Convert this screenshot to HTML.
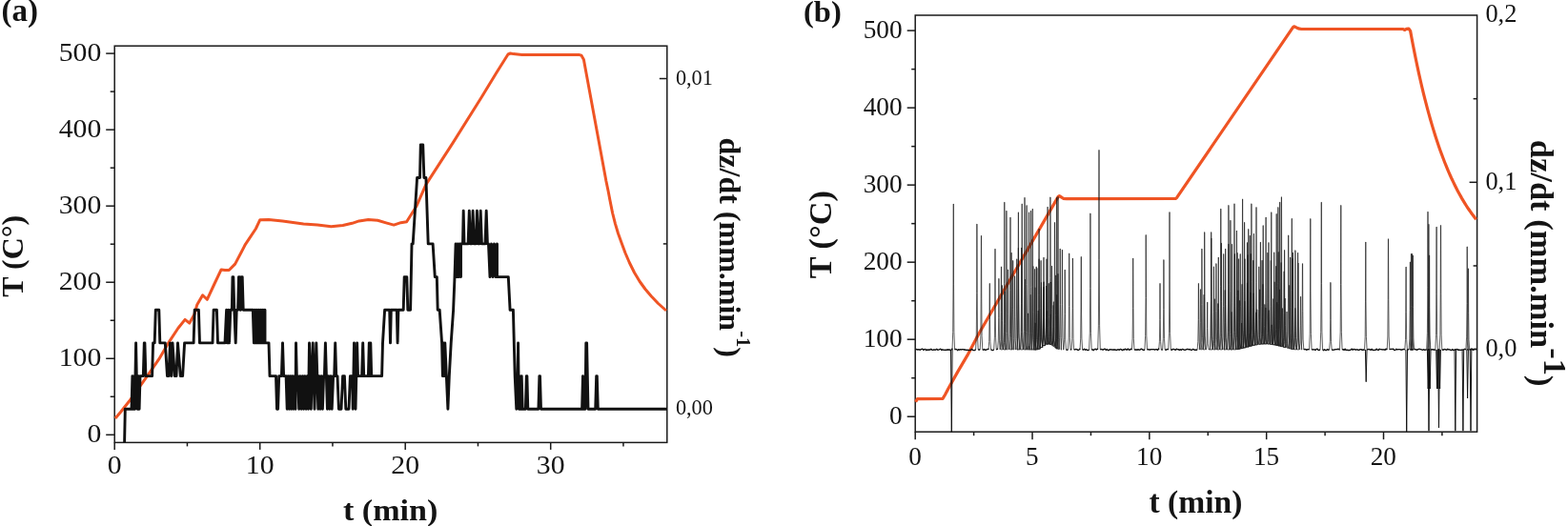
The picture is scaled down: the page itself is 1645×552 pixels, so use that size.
<!DOCTYPE html>
<html><head><meta charset="utf-8"><style>
html,body{margin:0;padding:0;background:#fff;overflow:hidden;}
svg{display:block;}
text{font-family:"Liberation Serif","Times New Roman",serif;fill:#141414;}
</style></head><body>
<svg width="1645" height="552" viewBox="0 0 1645 552">
<rect width="1645" height="552" fill="#fff"/>
<rect x="120.2" y="48.2" width="579.60" height="416.20" fill="none" stroke="#1a1a1a" stroke-width="1.5"/>
<line x1="111.20" y1="456.30" x2="120.20" y2="456.30" stroke="#1a1a1a" stroke-width="1.5"/>
<text transform="translate(106.30 464.00) scale(1.05 1)" font-size="28.3" text-anchor="end">0</text>
<line x1="111.20" y1="376.26" x2="120.20" y2="376.26" stroke="#1a1a1a" stroke-width="1.5"/>
<text transform="translate(106.30 383.96) scale(1.05 1)" font-size="28.3" text-anchor="end">100</text>
<line x1="111.20" y1="296.22" x2="120.20" y2="296.22" stroke="#1a1a1a" stroke-width="1.5"/>
<text transform="translate(106.30 303.92) scale(1.05 1)" font-size="28.3" text-anchor="end">200</text>
<line x1="111.20" y1="216.18" x2="120.20" y2="216.18" stroke="#1a1a1a" stroke-width="1.5"/>
<text transform="translate(106.30 223.88) scale(1.05 1)" font-size="28.3" text-anchor="end">300</text>
<line x1="111.20" y1="136.14" x2="120.20" y2="136.14" stroke="#1a1a1a" stroke-width="1.5"/>
<text transform="translate(106.30 143.84) scale(1.05 1)" font-size="28.3" text-anchor="end">400</text>
<line x1="111.20" y1="56.10" x2="120.20" y2="56.10" stroke="#1a1a1a" stroke-width="1.5"/>
<text transform="translate(106.30 63.80) scale(1.05 1)" font-size="28.3" text-anchor="end">500</text>
<line x1="115.70" y1="416.28" x2="120.20" y2="416.28" stroke="#1a1a1a" stroke-width="1.5"/>
<line x1="115.70" y1="336.24" x2="120.20" y2="336.24" stroke="#1a1a1a" stroke-width="1.5"/>
<line x1="115.70" y1="256.20" x2="120.20" y2="256.20" stroke="#1a1a1a" stroke-width="1.5"/>
<line x1="115.70" y1="176.16" x2="120.20" y2="176.16" stroke="#1a1a1a" stroke-width="1.5"/>
<line x1="115.70" y1="96.12" x2="120.20" y2="96.12" stroke="#1a1a1a" stroke-width="1.5"/>
<line x1="120.20" y1="464.40" x2="120.20" y2="471.90" stroke="#1a1a1a" stroke-width="1.5"/>
<text transform="translate(120.20 497.20) scale(1.05 1)" font-size="28.3" text-anchor="middle">0</text>
<line x1="272.70" y1="464.40" x2="272.70" y2="471.90" stroke="#1a1a1a" stroke-width="1.5"/>
<text transform="translate(272.70 497.20) scale(1.05 1)" font-size="28.3" text-anchor="middle">10</text>
<line x1="425.20" y1="464.40" x2="425.20" y2="471.90" stroke="#1a1a1a" stroke-width="1.5"/>
<text transform="translate(425.20 497.20) scale(1.05 1)" font-size="28.3" text-anchor="middle">20</text>
<line x1="577.70" y1="464.40" x2="577.70" y2="471.90" stroke="#1a1a1a" stroke-width="1.5"/>
<text transform="translate(577.70 497.20) scale(1.05 1)" font-size="28.3" text-anchor="middle">30</text>
<line x1="196.45" y1="464.40" x2="196.45" y2="468.40" stroke="#1a1a1a" stroke-width="1.5"/>
<line x1="348.95" y1="464.40" x2="348.95" y2="468.40" stroke="#1a1a1a" stroke-width="1.5"/>
<line x1="501.45" y1="464.40" x2="501.45" y2="468.40" stroke="#1a1a1a" stroke-width="1.5"/>
<line x1="653.95" y1="464.40" x2="653.95" y2="468.40" stroke="#1a1a1a" stroke-width="1.5"/>
<line x1="691.80" y1="429.30" x2="699.80" y2="429.30" stroke="#1a1a1a" stroke-width="1.5"/>
<text transform="translate(708.90 435.30) scale(0.97 1)" font-size="23" text-anchor="start">0,00</text>
<line x1="691.80" y1="82.50" x2="699.80" y2="82.50" stroke="#1a1a1a" stroke-width="1.5"/>
<text transform="translate(708.90 88.50) scale(0.97 1)" font-size="23" text-anchor="start">0,01</text>
<line x1="695.80" y1="255.90" x2="699.80" y2="255.90" stroke="#1a1a1a" stroke-width="1.5"/>
<text transform="translate(1.40 22.20)" font-size="33" text-anchor="start" font-weight="bold">(a)</text>
<text transform="translate(24.30 268.80) rotate(-90)" font-size="32" text-anchor="middle" font-weight="bold">T (C°)</text>
<text transform="translate(409.60 546.30) scale(1.065 1)" font-size="32" text-anchor="middle" font-weight="bold">t (min)</text>
<text transform="translate(754.50 144.50) rotate(90)" font-size="32" text-anchor="start" font-weight="bold">dz/dt (mm.min<tspan font-size="20.5" dy="-18.6">-1</tspan><tspan dy="18.6">)</tspan></text>
<rect x="960.2" y="16.0" width="589.40" height="437.20" fill="none" stroke="#1a1a1a" stroke-width="1.5"/>
<line x1="951.70" y1="437.20" x2="960.20" y2="437.20" stroke="#1a1a1a" stroke-width="1.5"/>
<text transform="translate(946.60 444.90) scale(0.965 1)" font-size="28.3" text-anchor="end">0</text>
<line x1="951.70" y1="356.18" x2="960.20" y2="356.18" stroke="#1a1a1a" stroke-width="1.5"/>
<text transform="translate(946.60 363.88) scale(0.965 1)" font-size="28.3" text-anchor="end">100</text>
<line x1="951.70" y1="275.16" x2="960.20" y2="275.16" stroke="#1a1a1a" stroke-width="1.5"/>
<text transform="translate(946.60 282.86) scale(0.965 1)" font-size="28.3" text-anchor="end">200</text>
<line x1="951.70" y1="194.14" x2="960.20" y2="194.14" stroke="#1a1a1a" stroke-width="1.5"/>
<text transform="translate(946.60 201.84) scale(0.965 1)" font-size="28.3" text-anchor="end">300</text>
<line x1="951.70" y1="113.12" x2="960.20" y2="113.12" stroke="#1a1a1a" stroke-width="1.5"/>
<text transform="translate(946.60 120.82) scale(0.965 1)" font-size="28.3" text-anchor="end">400</text>
<line x1="951.70" y1="32.10" x2="960.20" y2="32.10" stroke="#1a1a1a" stroke-width="1.5"/>
<text transform="translate(946.60 39.80) scale(0.965 1)" font-size="28.3" text-anchor="end">500</text>
<line x1="956.20" y1="396.69" x2="960.20" y2="396.69" stroke="#1a1a1a" stroke-width="1.5"/>
<line x1="956.20" y1="315.67" x2="960.20" y2="315.67" stroke="#1a1a1a" stroke-width="1.5"/>
<line x1="956.20" y1="234.65" x2="960.20" y2="234.65" stroke="#1a1a1a" stroke-width="1.5"/>
<line x1="956.20" y1="153.63" x2="960.20" y2="153.63" stroke="#1a1a1a" stroke-width="1.5"/>
<line x1="956.20" y1="72.61" x2="960.20" y2="72.61" stroke="#1a1a1a" stroke-width="1.5"/>
<line x1="960.20" y1="453.20" x2="960.20" y2="461.20" stroke="#1a1a1a" stroke-width="1.5"/>
<text transform="translate(960.00 487.50) scale(0.96 1)" font-size="28.3" text-anchor="middle">0</text>
<line x1="1083.03" y1="453.20" x2="1083.03" y2="461.20" stroke="#1a1a1a" stroke-width="1.5"/>
<text transform="translate(1082.83 487.50) scale(0.96 1)" font-size="28.3" text-anchor="middle">5</text>
<line x1="1205.85" y1="453.20" x2="1205.85" y2="461.20" stroke="#1a1a1a" stroke-width="1.5"/>
<text transform="translate(1205.65 487.50) scale(0.96 1)" font-size="28.3" text-anchor="middle">10</text>
<line x1="1328.68" y1="453.20" x2="1328.68" y2="461.20" stroke="#1a1a1a" stroke-width="1.5"/>
<text transform="translate(1328.48 487.50) scale(0.96 1)" font-size="28.3" text-anchor="middle">15</text>
<line x1="1451.50" y1="453.20" x2="1451.50" y2="461.20" stroke="#1a1a1a" stroke-width="1.5"/>
<text transform="translate(1451.30 487.50) scale(0.96 1)" font-size="28.3" text-anchor="middle">20</text>
<line x1="1021.61" y1="453.20" x2="1021.61" y2="457.20" stroke="#1a1a1a" stroke-width="1.5"/>
<line x1="1144.44" y1="453.20" x2="1144.44" y2="457.20" stroke="#1a1a1a" stroke-width="1.5"/>
<line x1="1267.26" y1="453.20" x2="1267.26" y2="457.20" stroke="#1a1a1a" stroke-width="1.5"/>
<line x1="1390.09" y1="453.20" x2="1390.09" y2="457.20" stroke="#1a1a1a" stroke-width="1.5"/>
<line x1="1512.91" y1="453.20" x2="1512.91" y2="457.20" stroke="#1a1a1a" stroke-width="1.5"/>
<line x1="1541.60" y1="366.60" x2="1549.60" y2="366.60" stroke="#1a1a1a" stroke-width="1.5"/>
<text transform="translate(1558.40 373.80) scale(0.95 1)" font-size="27.8" text-anchor="start">0,0</text>
<line x1="1541.60" y1="191.30" x2="1549.60" y2="191.30" stroke="#1a1a1a" stroke-width="1.5"/>
<text transform="translate(1558.40 198.50) scale(0.95 1)" font-size="27.8" text-anchor="start">0,1</text>
<text transform="translate(1558.40 23.20) scale(0.95 1)" font-size="27.8" text-anchor="start">0,2</text>
<line x1="1545.60" y1="278.95" x2="1549.60" y2="278.95" stroke="#1a1a1a" stroke-width="1.5"/>
<line x1="1545.60" y1="103.65" x2="1549.60" y2="103.65" stroke="#1a1a1a" stroke-width="1.5"/>
<text transform="translate(843.00 23.20)" font-size="32.5" text-anchor="start" font-weight="bold">(b)</text>
<text transform="translate(872.20 246.20) rotate(-90)" font-size="34.3" text-anchor="middle" font-weight="bold">T (°C)</text>
<text transform="translate(1254.50 538.20)" font-size="33.6" text-anchor="middle" font-weight="bold">t (min)</text>
<text transform="translate(1605.50 146.80) rotate(90)" font-size="34.5" text-anchor="start" font-weight="bold">dz/dt (mm.min<tspan dy="-14.6">-1</tspan><tspan dy="14.6">)</tspan></text>
<polyline points="121.0,439.0 126.7,432.2 135.4,421.3 146.3,406.1 157.1,390.9 166.9,376.7 177.8,358.1 186.8,344.5 194.1,335.4 198.8,339.1 203.9,330.0 206.8,319.7 212.6,309.7 217.3,314.3 224.9,298.0 232.1,282.9 236.0,283.5 240.3,283.5 246.6,277.1 257.5,256.3 260.0,252.6 268.4,240.0 272.8,230.7 281.9,230.4 296.5,232.1 318.4,234.9 333.0,236.1 347.5,237.7 359.7,236.5 369.4,234.3 376.7,231.9 386.4,230.4 396.2,231.3 405.9,234.1 413.2,236.1 420.5,233.7 426.6,232.8 430.2,227.0 436.7,216.8 446.9,193.6 475.0,150.1 505.2,102.0 521.5,75.2 533.0,57.0 535.5,56.0 538.5,56.6 547.6,57.6 608.0,57.6 610.0,58.2 612.4,62.4 635.9,190.0 638.2,201.0 640.0,210.5 642.6,223.5 645.4,234.6 648.5,245.0 652.2,255.2 656.0,265.5 660.3,275.5 665.5,286.0 671.2,295.5 677.0,303.5 683.4,311.0 690.5,318.5 699.0,326.0" fill="none" stroke="#ef5424" stroke-width="3" stroke-linejoin="round"/>
<polyline points="130.6,464.4 131.3,429.3 138.0,429.3 138.9,394.6 139.8,429.3 140.7,394.6 141.6,429.3 142.0,394.6 142.6,359.9 143.3,394.6 144.2,429.3 145.2,394.6 146.1,429.3 147.0,394.6 147.5,394.6 150.3,394.6 151.3,359.9 151.9,359.9 152.9,394.6 159.6,394.6 160.6,359.9 162.2,359.9 163.3,325.3 166.8,325.3 167.8,359.9 173.3,359.9 175.5,394.6 177.0,394.6 178.5,359.9 179.8,394.6 181.0,359.9 183.3,394.6 185.0,394.6 186.5,359.9 189.3,394.6 191.6,394.6 193.6,359.9 203.1,359.9 204.2,325.3 208.4,325.3 209.5,359.9 223.0,359.9 224.1,325.3 227.4,325.3 228.5,359.9 236.0,359.9 237.6,325.3 238.4,359.9 239.6,325.3 240.5,359.9 241.8,325.3 243.3,325.3 244.0,290.6 244.8,290.6 245.8,325.3 247.2,359.9 248.2,325.3 249.6,325.3 250.5,290.6 251.2,290.6 252.0,325.3 252.6,325.3 253.4,290.6 254.2,290.6 255.2,325.3 265.3,325.3 266.4,359.9 267.4,325.3 268.5,359.9 269.5,325.3 270.6,359.9 271.6,325.3 272.7,359.9 273.8,325.3 274.8,359.9 275.9,325.3 276.9,359.9 278.0,325.3 278.0,359.9 282.0,359.9 283.0,394.6 289.5,394.6 290.5,429.3 291.6,429.3 292.7,394.6 295.4,394.6 296.5,359.9 297.6,394.6 299.0,394.6 300.1,394.6 301.2,429.3 302.3,394.6 303.4,429.3 304.5,394.6 305.6,429.3 306.7,394.6 307.8,429.3 308.9,394.6 310.0,429.3 310.5,359.9 311.3,394.6 312.5,394.6 313.7,429.3 315.0,394.6 316.2,429.3 317.4,394.6 318.6,429.3 319.8,394.6 321.1,429.3 322.3,394.6 323.5,429.3 324.5,359.9 325.5,394.6 326.3,429.3 327.2,394.6 328.2,359.9 329.2,394.6 330.0,429.3 330.9,394.6 331.8,359.9 332.8,394.6 333.8,429.3 334.8,394.6 336.0,429.3 337.2,394.6 338.4,429.3 339.6,394.6 340.4,394.6 341.4,359.9 342.4,394.6 343.4,429.3 344.6,394.6 345.8,429.3 347.0,394.6 348.2,429.3 349.6,394.6 350.7,394.6 351.7,359.9 352.7,394.6 354.0,394.6 355.4,429.3 358.0,429.3 359.6,394.6 361.4,394.6 362.8,429.3 366.0,429.3 367.4,394.6 369.6,394.6 370.2,429.3 370.9,394.6 371.5,359.9 372.3,394.6 373.0,429.3 373.8,394.6 374.6,359.9 375.5,394.6 379.6,394.6 380.7,359.9 381.7,394.6 386.4,394.6 387.3,359.9 388.1,394.6 388.8,359.9 389.7,394.6 400.6,394.6 401.5,359.9 403.6,325.3 408.7,325.3 409.5,359.9 410.3,325.3 416.3,325.3 417.1,359.9 417.9,325.3 423.2,325.3 424.2,290.6 426.8,290.6 427.8,325.3 430.6,325.3 432.0,255.9 433.2,255.9 437.6,186.5 440.5,186.5 441.3,151.9 443.7,151.9 444.9,186.5 446.9,186.5 449.2,255.9 454.1,255.9 456.3,290.6 458.3,290.6 459.2,325.3 461.2,325.3 463.6,359.9 464.4,394.6 465.2,359.9 466.0,394.6 466.8,359.9 469.9,429.3 471.3,394.6 473.2,359.9 475.6,325.3 477.0,290.6 478.1,255.9 479.2,290.6 480.2,255.9 481.3,290.6 482.4,255.9 483.5,290.6 483.5,255.9 485.5,255.9 486.2,221.2 487.0,255.9 490.5,255.9 491.1,255.9 492.3,221.2 493.5,255.9 494.9,255.9 496.1,221.2 497.3,255.9 499.2,255.9 500.4,221.2 501.6,255.9 503.0,255.9 504.2,221.2 505.4,255.9 505.5,255.9 509.0,255.9 510.2,221.2 511.4,255.9 512.5,255.9 514.0,290.6 515.5,255.9 517.0,290.6 518.5,255.9 520.0,290.6 521.5,255.9 521.5,290.6 533.3,290.6 535.1,325.3 538.4,325.3 540.2,394.6 541.8,429.3 543.0,394.6 543.6,359.9 544.4,429.3 545.2,394.6 546.2,429.3 547.2,394.6 548.2,429.3 551.4,429.3 552.3,394.6 552.9,394.6 553.8,429.3 564.9,429.3 565.9,394.6 566.5,394.6 567.5,429.3 610.6,429.3 611.5,394.6 612.5,429.3 614.0,429.3 614.8,359.9 615.6,359.9 617.0,429.3 624.7,429.3 625.7,394.6 626.3,394.6 627.3,429.3 699.8,429.3" fill="none" stroke="#111" stroke-width="2.9" stroke-linejoin="round"/>
<polyline points="960.6,421.8 962.5,418.6 989.0,418.4 991.5,414.2 994.9,407.8 1004.9,389.9 1014.9,372.9 1027.0,350.0 1110.2,206.4 1111.4,205.6 1113.0,206.6 1115.5,208.3 1119.0,208.7 1233.3,208.4 1234.6,207.4 1356.5,28.6 1357.6,27.9 1359.0,28.3 1361.5,29.6 1363.4,30.2 1365.3,30.5 1472.0,30.5 1473.5,31.5 1475.5,30.4 1478.0,30.2 1479.6,32.4 1481.1,40.5 1482.6,48.3 1484.1,55.9 1485.6,63.3 1487.1,70.4 1488.6,77.3 1490.1,84.0 1491.6,90.5 1493.1,96.8 1494.6,102.8 1496.1,108.7 1497.6,114.4 1499.1,119.9 1500.6,125.3 1502.1,130.4 1503.6,135.4 1505.1,140.3 1506.6,145.0 1508.1,149.5 1509.6,153.9 1511.1,158.2 1512.6,162.3 1514.1,166.3 1515.6,170.2 1517.1,173.9 1518.6,177.6 1520.1,181.1 1521.6,184.5 1523.1,187.8 1524.6,190.9 1526.1,194.0 1527.6,197.0 1529.1,199.9 1530.6,202.7 1532.1,205.4 1533.6,208.1 1535.1,210.6 1536.6,213.1 1538.1,215.5 1539.6,217.8 1541.1,220.0 1542.6,222.2 1544.1,224.3 1545.6,226.3 1547.1,228.3 1548.6,230.2" fill="none" stroke="#ef5424" stroke-width="3.2" stroke-linejoin="round"/>
<polyline points="960.8,366.9 961.8,366.5 962.8,367.0 963.8,366.7 964.8,367.0 965.8,367.1 966.8,366.3 967.8,366.2 968.8,367.4 969.8,366.6 970.8,366.5 971.8,367.6 972.8,366.9 973.8,367.4 974.8,366.9 975.8,367.1 976.8,366.4 977.8,367.1 978.8,367.4 979.8,366.9 980.8,367.2 981.8,367.1 982.8,366.3 983.8,367.3 984.8,367.0 985.8,366.6 986.8,366.2 987.8,367.4 988.8,366.9 989.8,367.2 990.8,367.4 991.8,367.2 992.8,367.5 993.8,366.8 994.8,367.3 995.8,366.8 996.8,367.5 997.8,367.4 998.8,366.3 999.0,366.9 999.7,348.6 1000.0,298.1 1000.2,214.0 1000.4,214.0 1000.5,298.1 1000.9,348.6 1001.6,366.9 1002.6,366.4 1003.6,366.5 1004.6,367.6 1005.6,366.8 1006.6,367.1 1007.6,366.6 1008.6,366.9 1009.6,366.7 1010.6,366.7 1011.6,367.0 1012.6,367.0 1013.6,367.5 1014.6,367.2 1015.6,367.5 1016.6,367.4 1017.6,367.6 1018.6,367.1 1019.6,366.4 1020.6,367.4 1021.6,367.6 1022.6,367.5 1023.6,366.9 1024.3,351.1 1024.7,307.6 1024.8,235.1 1025.0,235.1 1025.2,307.6 1025.5,351.1 1026.2,366.9 1027.2,367.0 1028.2,366.9 1028.9,352.5 1029.2,313.1 1029.4,247.3 1029.6,247.3 1029.8,313.1 1030.1,352.5 1030.8,366.9 1031.8,367.2 1032.8,366.5 1033.8,367.4 1034.8,367.0 1035.8,366.6 1036.8,366.3 1037.0,366.9 1037.7,358.6 1038.0,335.6 1038.2,297.4 1038.4,297.4 1038.5,335.6 1038.9,358.6 1039.6,366.9 1040.6,367.4 1041.6,367.6 1042.7,366.9 1043.4,354.2 1043.8,319.3 1043.9,261.2 1044.1,261.2 1044.2,319.3 1044.6,354.2 1045.3,366.9 1046.3,366.3 1046.6,366.9 1047.3,357.9 1047.7,333.3 1047.8,292.3 1048.0,292.3 1048.2,333.3 1048.5,357.9 1049.2,366.9 1049.2,366.9 1049.9,356.5 1050.2,327.7 1050.4,279.9 1050.6,279.9 1050.8,327.7 1051.1,356.5 1051.8,366.9 1050.0,366.9 1050.7,358.8 1051.0,336.6 1051.2,299.5 1051.4,299.5 1051.5,336.6 1051.9,358.8 1052.6,366.9 1052.5,366.9 1053.2,348.3 1053.5,297.3 1053.7,212.2 1053.9,212.2 1054.0,297.3 1054.4,348.3 1055.1,366.9 1052.8,366.9 1053.5,359.6 1053.8,339.4 1054.0,305.8 1054.1,305.8 1054.3,339.4 1054.7,359.6 1055.4,366.9 1054.6,366.9 1055.3,349.4 1055.7,301.3 1055.8,221.2 1056.0,221.2 1056.2,301.3 1056.5,349.4 1057.2,366.9 1056.2,366.9 1056.9,356.8 1057.3,329.1 1057.4,282.9 1057.6,282.9 1057.8,329.1 1058.1,356.8 1058.8,366.9 1058.7,366.9 1059.4,350.2 1059.8,304.4 1059.9,228.1 1060.1,228.1 1060.2,304.4 1060.6,350.2 1061.3,366.9 1059.8,366.9 1060.5,354.7 1060.9,321.1 1061.0,265.2 1061.2,265.2 1061.4,321.1 1061.7,354.7 1062.4,366.9 1061.4,366.9 1062.1,355.7 1062.5,324.8 1062.6,273.4 1062.8,273.4 1063.0,324.8 1063.3,355.7 1064.0,366.9 1063.3,366.9 1064.0,357.6 1064.4,332.1 1064.5,289.6 1064.7,289.6 1064.9,332.1 1065.2,357.6 1065.9,366.9 1065.5,366.9 1066.2,355.5 1066.5,324.1 1066.7,271.8 1066.9,271.8 1067.0,324.1 1067.4,355.5 1068.1,366.9 1067.1,366.9 1067.8,349.6 1068.2,302.1 1068.3,222.8 1068.5,222.8 1068.7,302.1 1069.0,349.6 1069.7,366.9 1067.1,366.9 1067.8,354.1 1068.2,318.9 1068.3,260.2 1068.5,260.2 1068.7,318.9 1069.0,354.1 1069.7,366.9 1070.4,366.9 1071.1,354.1 1071.5,318.8 1071.6,260.0 1071.8,260.0 1072.0,318.8 1072.3,354.1 1073.0,366.9 1070.9,366.9 1071.6,348.5 1072.0,298.0 1072.1,213.9 1072.3,213.9 1072.5,298.0 1072.8,348.5 1073.5,366.9 1073.7,366.9 1074.4,347.7 1074.8,295.1 1074.9,207.3 1075.1,207.3 1075.2,295.1 1075.6,347.7 1076.3,366.9 1074.2,366.9 1074.9,358.0 1075.3,333.7 1075.5,293.1 1075.6,293.1 1075.8,333.7 1076.1,358.0 1076.8,366.9 1075.8,366.9 1076.5,348.7 1076.8,298.8 1077.0,215.5 1077.2,215.5 1077.3,298.8 1077.7,348.7 1078.4,366.9 1077.3,366.9 1078.0,362.3 1078.3,349.8 1078.5,328.9 1078.7,328.9 1078.8,349.8 1079.2,362.3 1079.9,366.9 1078.2,366.9 1078.9,349.6 1079.2,302.1 1079.4,222.8 1079.6,222.8 1079.8,302.1 1080.1,349.6 1080.8,366.9 1080.0,366.9 1080.7,360.0 1081.1,341.0 1081.3,309.2 1081.4,309.2 1081.6,341.0 1081.9,360.0 1082.6,366.9 1080.2,366.9 1080.9,349.4 1081.2,301.3 1081.4,221.2 1081.6,221.2 1081.8,301.3 1082.1,349.4 1082.8,366.9 1082.0,366.9 1082.7,349.2 1083.0,300.4 1083.2,219.2 1083.4,219.2 1083.5,300.4 1083.9,349.2 1084.6,366.9 1082.5,366.9 1083.2,356.4 1083.6,327.5 1083.8,279.4 1083.9,279.4 1084.1,327.5 1084.4,356.4 1085.1,366.9 1084.3,366.9 1085.0,356.8 1085.3,328.9 1085.5,282.4 1085.7,282.4 1085.8,328.9 1086.2,356.8 1086.9,366.9 1084.5,366.9 1085.2,359.1 1085.6,337.6 1085.8,301.7 1085.9,301.7 1086.1,337.6 1086.4,359.1 1087.1,366.9 1084.7,366.9 1085.4,363.6 1085.8,354.4 1085.9,339.1 1086.1,339.1 1086.2,354.4 1086.6,363.6 1087.3,366.9 1085.9,366.9 1086.6,356.5 1087.0,327.8 1087.1,279.9 1087.3,279.9 1087.5,327.8 1087.8,356.5 1088.5,366.9 1086.6,366.9 1087.3,356.6 1087.6,328.4 1087.8,281.4 1088.0,281.4 1088.1,328.4 1088.5,356.6 1089.2,366.9 1088.0,366.5 1088.7,361.7 1089.0,348.3 1089.2,326.1 1089.3,326.1 1089.5,348.3 1089.9,361.7 1090.6,366.5 1088.8,366.1 1089.5,354.7 1089.8,323.6 1090.0,271.8 1090.2,271.8 1090.3,323.6 1090.7,354.7 1091.4,366.1 1088.8,366.1 1089.5,350.9 1089.8,309.3 1090.0,240.0 1090.2,240.0 1090.3,309.3 1090.7,350.9 1091.4,366.1 1090.8,364.7 1091.5,353.7 1091.8,323.6 1092.0,273.4 1092.2,273.4 1092.3,323.6 1092.7,353.7 1093.4,364.7 1091.1,364.5 1091.8,356.9 1092.2,336.0 1092.4,301.3 1092.5,301.3 1092.7,336.0 1093.0,356.9 1093.7,364.5 1091.2,364.4 1091.9,356.3 1092.2,333.8 1092.4,296.4 1092.5,296.4 1092.7,333.8 1093.1,356.3 1093.8,364.4 1093.7,362.7 1094.4,351.6 1094.8,321.0 1094.9,270.1 1095.1,270.1 1095.2,321.0 1095.6,351.6 1096.3,362.7 1093.8,362.6 1094.5,354.6 1094.8,332.5 1095.0,295.8 1095.2,295.8 1095.3,332.5 1095.7,354.6 1096.4,362.6 1093.8,362.6 1094.5,355.2 1094.9,334.9 1095.1,301.1 1095.2,301.1 1095.4,334.9 1095.7,355.2 1096.4,362.6 1096.3,361.3 1097.0,354.0 1097.4,333.7 1097.6,300.0 1097.7,300.0 1097.9,333.7 1098.2,354.0 1098.9,361.3 1096.7,361.2 1097.4,350.5 1097.8,321.0 1097.9,271.8 1098.1,271.8 1098.2,321.0 1098.6,350.5 1099.3,361.2 1097.3,361.1 1098.0,356.9 1098.3,345.5 1098.5,326.5 1098.7,326.5 1098.8,345.5 1099.2,356.9 1099.9,361.1 1097.8,361.0 1098.5,343.7 1098.8,296.2 1099.0,217.1 1099.2,217.1 1099.3,296.2 1099.7,343.7 1100.4,361.0 1098.9,360.9 1099.6,353.3 1099.9,332.3 1100.1,297.4 1100.3,297.4 1100.4,332.3 1100.8,353.3 1101.5,360.9 1100.6,361.2 1101.3,342.7 1101.7,291.8 1101.8,206.9 1102.0,206.9 1102.2,291.8 1102.5,342.7 1103.2,361.2 1100.8,361.3 1101.5,353.4 1101.9,331.9 1102.1,296.0 1102.2,296.0 1102.4,331.9 1102.7,353.4 1103.4,361.3 1101.1,361.3 1101.8,357.6 1102.1,347.2 1102.3,329.9 1102.5,329.9 1102.6,347.2 1103.0,357.6 1103.7,361.3 1102.2,361.8 1102.9,351.9 1103.2,324.6 1103.4,279.1 1103.6,279.1 1103.8,324.6 1104.1,351.9 1104.8,361.8 1103.9,362.8 1104.6,357.7 1104.9,343.7 1105.1,320.4 1105.3,320.4 1105.4,343.7 1105.8,357.7 1106.5,362.8 1104.1,362.9 1104.8,357.4 1105.1,342.1 1105.3,316.7 1105.5,316.7 1105.6,342.1 1106.0,357.4 1106.7,362.9 1105.2,363.7 1105.9,348.1 1106.2,305.1 1106.4,233.4 1106.6,233.4 1106.8,305.1 1107.1,348.1 1107.8,363.7 1106.5,364.6 1107.2,355.5 1107.5,330.5 1107.7,288.9 1107.8,288.9 1108.0,330.5 1108.4,355.5 1109.1,364.6 1107.3,365.2 1108.0,346.3 1108.3,294.1 1108.5,207.3 1108.7,207.3 1108.8,294.1 1109.2,346.3 1109.9,365.2 1107.4,365.3 1108.1,358.6 1108.5,340.1 1108.6,309.4 1108.8,309.4 1109.0,340.1 1109.3,358.6 1110.0,365.3 1108.6,366.1 1109.3,356.6 1109.7,330.6 1109.9,287.3 1110.0,287.3 1110.2,330.6 1110.5,356.6 1111.2,366.1 1108.7,366.1 1109.4,347.0 1109.8,294.3 1109.9,206.5 1110.1,206.5 1110.2,294.3 1110.6,347.0 1111.3,366.1 1110.9,366.9 1111.6,354.2 1112.0,319.2 1112.1,261.0 1112.3,261.0 1112.5,319.2 1112.8,354.2 1113.5,366.9 1113.1,366.9 1113.8,354.3 1114.2,319.8 1114.3,262.2 1114.5,262.2 1114.7,319.8 1115.0,354.3 1115.7,366.9 1115.9,366.9 1116.6,356.8 1117.0,329.2 1117.1,283.1 1117.3,283.1 1117.5,329.2 1117.8,356.8 1118.5,366.9 1119.5,367.3 1120.4,366.9 1121.1,354.8 1121.5,321.4 1121.6,265.9 1121.8,265.9 1122.0,321.4 1122.3,354.8 1123.0,366.9 1124.1,366.9 1124.8,355.4 1125.2,323.7 1125.3,271.0 1125.5,271.0 1125.7,323.7 1126.0,355.4 1126.7,366.9 1127.7,366.8 1128.7,366.4 1129.7,366.6 1130.7,367.3 1131.7,367.4 1132.7,366.3 1133.0,366.9 1133.7,355.2 1134.0,323.0 1134.2,269.4 1134.4,269.4 1134.5,323.0 1134.9,355.2 1135.6,366.9 1136.6,367.1 1137.6,366.3 1138.6,367.2 1139.6,366.7 1140.6,367.4 1141.6,367.6 1142.6,366.9 1143.3,349.7 1143.7,302.5 1143.8,223.9 1144.0,223.9 1144.2,302.5 1144.5,349.7 1145.2,366.9 1146.2,366.9 1147.2,367.6 1148.2,366.6 1149.2,366.3 1150.2,367.0 1151.2,366.2 1151.7,366.9 1152.4,341.8 1152.8,272.6 1152.9,157.4 1153.1,157.4 1153.2,272.6 1153.6,341.8 1154.3,366.9 1155.3,366.5 1156.3,366.8 1157.3,367.1 1158.3,366.4 1159.3,366.3 1160.3,367.4 1161.3,366.6 1162.3,367.5 1163.3,367.5 1164.3,366.7 1165.3,366.8 1166.3,366.9 1167.3,367.1 1168.3,367.0 1169.3,367.0 1170.3,367.1 1171.3,367.5 1172.3,366.9 1173.3,366.8 1174.3,367.2 1175.3,366.5 1176.3,366.6 1177.3,367.6 1178.3,366.9 1179.3,367.0 1180.3,366.2 1181.3,366.8 1182.3,367.0 1183.3,366.2 1184.3,367.1 1185.3,367.1 1186.3,366.3 1187.4,366.9 1188.1,355.4 1188.5,323.7 1188.6,271.0 1188.8,271.0 1189.0,323.7 1189.3,355.4 1190.0,366.9 1191.0,367.1 1192.0,366.9 1193.0,367.2 1194.0,366.7 1195.0,367.2 1196.0,367.2 1197.0,366.2 1198.0,366.3 1199.0,367.1 1200.0,367.5 1200.9,366.9 1201.6,352.5 1202.0,312.7 1202.1,246.5 1202.3,246.5 1202.5,312.7 1202.8,352.5 1203.5,366.9 1204.5,366.6 1205.5,366.8 1206.5,367.0 1207.5,366.6 1208.5,366.7 1209.5,366.6 1210.5,366.7 1211.5,367.0 1212.5,366.6 1213.5,366.7 1214.5,367.3 1215.5,366.2 1215.7,366.9 1216.4,358.6 1216.8,335.6 1216.9,297.4 1217.1,297.4 1217.2,335.6 1217.6,358.6 1218.3,366.9 1219.3,367.0 1219.6,366.9 1220.3,355.6 1220.7,324.5 1220.8,272.6 1221.0,272.6 1221.2,324.5 1221.5,355.6 1222.2,366.9 1223.2,367.2 1224.2,366.6 1225.2,366.5 1225.7,366.9 1226.4,349.6 1226.8,302.0 1226.9,222.6 1227.1,222.6 1227.2,302.0 1227.6,349.6 1228.3,366.9 1229.3,367.3 1230.3,366.5 1231.3,366.5 1232.3,366.8 1233.3,367.2 1234.3,366.3 1235.3,366.7 1236.3,366.7 1237.3,367.4 1238.3,366.8 1239.3,367.4 1240.3,366.4 1241.3,366.7 1242.3,367.1 1243.3,367.4 1244.3,366.8 1245.3,366.5 1246.3,366.4 1247.3,366.9 1248.3,366.5 1249.3,367.3 1250.3,367.4 1251.3,366.5 1252.3,366.6 1253.3,367.3 1254.3,367.1 1255.3,367.3 1256.1,366.9 1256.8,358.6 1257.2,335.6 1257.3,297.4 1257.5,297.4 1257.7,335.6 1258.0,358.6 1258.7,366.9 1258.2,366.9 1258.9,359.3 1259.2,338.4 1259.4,303.6 1259.6,303.6 1259.8,338.4 1260.1,359.3 1260.8,366.9 1259.6,366.9 1260.3,354.2 1260.7,319.3 1260.8,261.1 1261.0,261.1 1261.2,319.3 1261.5,354.2 1262.2,366.9 1261.8,366.9 1262.5,360.0 1262.9,341.0 1263.0,309.3 1263.2,309.3 1263.4,341.0 1263.7,360.0 1264.4,366.9 1262.4,366.9 1263.1,352.1 1263.5,311.4 1263.6,243.6 1263.8,243.6 1264.0,311.4 1264.3,352.1 1265.0,366.9 1265.4,366.9 1266.1,360.9 1266.4,344.5 1266.6,317.1 1266.8,317.1 1266.9,344.5 1267.3,360.9 1268.0,366.9 1269.0,366.7 1269.4,366.9 1270.1,352.1 1270.5,311.4 1270.6,243.6 1270.8,243.6 1271.0,311.4 1271.3,352.1 1272.0,366.9 1269.4,366.9 1270.1,352.9 1270.5,314.3 1270.7,250.0 1270.8,250.0 1271.0,314.3 1271.3,352.9 1272.0,366.9 1272.1,366.9 1272.8,356.4 1273.2,327.7 1273.3,279.8 1273.5,279.8 1273.7,327.7 1274.0,356.4 1274.7,366.9 1272.8,366.9 1273.5,360.5 1273.9,343.0 1274.1,313.7 1274.2,313.7 1274.4,343.0 1274.7,360.5 1275.4,366.9 1274.6,366.9 1275.3,356.1 1275.7,326.3 1275.8,276.6 1276.0,276.6 1276.2,326.3 1276.5,356.1 1277.2,366.9 1276.5,366.9 1277.2,361.1 1277.6,345.2 1277.7,318.6 1277.9,318.6 1278.1,345.2 1278.4,361.1 1279.1,366.9 1277.0,366.9 1277.7,355.3 1278.0,323.3 1278.2,270.0 1278.4,270.0 1278.5,323.3 1278.9,355.3 1279.6,366.9 1279.5,366.9 1280.2,349.2 1280.5,300.4 1280.7,219.1 1280.9,219.1 1281.0,300.4 1281.4,349.2 1282.1,366.9 1280.1,366.9 1280.8,353.5 1281.2,316.6 1281.3,255.1 1281.5,255.1 1281.7,316.6 1282.0,353.5 1282.7,366.9 1282.4,366.9 1283.1,354.9 1283.5,321.7 1283.6,266.5 1283.8,266.5 1284.0,321.7 1284.3,354.9 1285.0,366.9 1283.9,366.9 1284.6,359.4 1285.0,338.8 1285.2,304.5 1285.3,304.5 1285.5,338.8 1285.8,359.4 1286.5,366.9 1284.4,366.9 1285.1,354.2 1285.5,319.3 1285.6,261.1 1285.8,261.1 1286.0,319.3 1286.3,354.2 1287.0,366.9 1287.4,366.9 1288.1,353.6 1288.5,317.0 1288.6,256.1 1288.8,256.1 1289.0,317.0 1289.3,353.6 1290.0,366.9 1287.6,366.9 1288.3,348.7 1288.7,298.7 1288.8,215.4 1289.0,215.4 1289.2,298.7 1289.5,348.7 1290.2,366.9 1289.6,366.9 1290.3,350.6 1290.7,305.8 1290.8,231.2 1291.0,231.2 1291.2,305.8 1291.5,350.6 1292.2,366.9 1290.9,366.9 1291.6,362.2 1292.0,349.1 1292.2,327.4 1292.3,327.4 1292.5,349.1 1292.8,362.2 1293.5,366.9 1291.2,366.9 1291.9,353.6 1292.2,317.1 1292.4,256.2 1292.6,256.2 1292.8,317.1 1293.1,353.6 1293.8,366.9 1293.7,366.9 1294.4,348.5 1294.8,298.0 1294.9,213.8 1295.1,213.8 1295.2,298.0 1295.6,348.5 1296.3,366.9 1294.1,366.9 1294.8,354.8 1295.2,321.7 1295.3,266.5 1295.5,266.5 1295.7,321.7 1296.0,354.8 1296.7,366.9 1296.1,366.7 1296.8,351.7 1297.2,310.6 1297.3,242.0 1297.5,242.0 1297.7,310.6 1298.0,351.7 1298.7,366.7 1296.7,366.6 1297.4,354.4 1297.8,321.0 1298.0,265.3 1298.1,265.3 1298.3,321.0 1298.6,354.4 1299.3,366.6 1297.7,366.4 1298.4,359.0 1298.8,338.7 1298.9,304.8 1299.1,304.8 1299.2,338.7 1299.6,359.0 1300.3,366.4 1298.2,366.3 1298.9,354.9 1299.2,323.7 1299.4,271.7 1299.6,271.7 1299.8,323.7 1300.1,354.9 1300.8,366.3 1299.2,366.1 1299.9,360.0 1300.3,343.3 1300.4,315.4 1300.6,315.4 1300.8,343.3 1301.1,360.0 1301.8,366.1 1299.9,365.9 1300.6,354.0 1301.0,321.2 1301.1,266.5 1301.3,266.5 1301.5,321.2 1301.8,354.0 1302.5,365.9 1301.3,365.6 1302.0,362.4 1302.3,353.7 1302.5,339.1 1302.6,339.1 1302.8,353.7 1303.2,362.4 1303.9,365.6 1301.8,365.5 1302.5,357.4 1302.8,335.2 1303.0,298.3 1303.2,298.3 1303.3,335.2 1303.7,357.4 1304.4,365.5 1302.3,365.4 1303.0,346.6 1303.3,295.0 1303.5,208.9 1303.7,208.9 1303.8,295.0 1304.2,346.6 1304.9,365.4 1304.3,364.8 1305.0,349.1 1305.3,305.6 1305.5,233.3 1305.7,233.3 1305.8,305.6 1306.2,349.1 1306.9,364.8 1304.5,364.8 1305.2,359.0 1305.5,342.9 1305.7,316.1 1305.8,316.1 1306.0,342.9 1306.4,359.0 1307.1,364.8 1304.6,364.8 1305.3,353.6 1305.7,322.9 1305.9,271.7 1306.0,271.7 1306.2,322.9 1306.5,353.6 1307.2,364.8 1307.2,364.1 1307.9,356.0 1308.2,333.9 1308.4,296.9 1308.5,296.9 1308.7,333.9 1309.1,356.0 1309.8,364.1 1307.2,364.1 1307.9,350.9 1308.2,314.8 1308.4,254.5 1308.6,254.5 1308.8,314.8 1309.1,350.9 1309.8,364.1 1307.8,363.9 1308.5,352.3 1308.8,320.5 1309.0,267.4 1309.1,267.4 1309.3,320.5 1309.7,352.3 1310.4,363.9 1308.5,363.7 1309.2,348.9 1309.5,308.2 1309.7,240.4 1309.9,240.4 1310.0,308.2 1310.4,348.9 1311.1,363.7 1310.0,363.3 1310.7,349.4 1311.0,311.1 1311.2,247.2 1311.4,247.2 1311.5,311.1 1311.9,349.4 1312.6,363.3 1310.7,363.1 1311.4,356.4 1311.8,337.8 1311.9,306.9 1312.1,306.9 1312.3,337.8 1312.6,356.4 1313.3,363.1 1310.8,363.1 1311.5,351.5 1311.9,319.6 1312.0,266.4 1312.2,266.4 1312.4,319.6 1312.7,351.5 1313.4,363.1 1311.6,362.9 1312.3,345.0 1312.7,295.8 1312.8,213.8 1313.0,213.8 1313.2,295.8 1313.5,345.0 1314.2,362.9 1313.6,362.4 1314.3,351.7 1314.7,322.3 1314.8,273.3 1315.0,273.3 1315.2,322.3 1315.5,351.7 1316.2,362.4 1314.0,362.3 1314.7,355.8 1315.1,337.8 1315.2,307.8 1315.4,307.8 1315.6,337.8 1315.9,355.8 1316.6,362.3 1314.1,362.3 1314.8,348.3 1315.2,309.6 1315.3,245.2 1315.5,245.2 1315.7,309.6 1316.0,348.3 1316.7,362.3 1316.3,361.9 1317.0,357.8 1317.3,346.6 1317.5,327.9 1317.7,327.9 1317.8,346.6 1318.2,357.8 1318.9,361.9 1316.7,361.8 1317.4,344.5 1317.8,296.9 1317.9,217.5 1318.1,217.5 1318.2,296.9 1318.6,344.5 1319.3,361.8 1317.4,361.7 1318.1,357.3 1318.5,345.1 1318.7,324.8 1318.8,324.8 1319.0,345.1 1319.3,357.3 1320.0,361.7 1319.5,361.4 1320.2,351.6 1320.6,324.7 1320.7,279.9 1320.9,279.9 1321.1,324.7 1321.4,351.6 1322.1,361.4 1320.3,361.3 1321.0,354.4 1321.4,335.4 1321.6,303.8 1321.7,303.8 1321.9,335.4 1322.2,354.4 1322.9,361.3 1321.1,361.2 1321.8,348.3 1322.2,313.0 1322.3,254.1 1322.5,254.1 1322.7,313.0 1323.0,348.3 1323.7,361.2 1322.8,361.0 1323.5,350.5 1323.8,321.5 1324.0,273.2 1324.2,273.2 1324.3,321.5 1324.7,350.5 1325.4,361.0 1323.7,361.0 1324.4,353.5 1324.7,332.8 1324.9,298.4 1325.0,298.4 1325.2,332.8 1325.6,353.5 1326.3,361.0 1323.9,361.0 1324.6,346.0 1325.0,305.0 1325.1,236.6 1325.3,236.6 1325.5,305.0 1325.8,346.0 1326.5,361.0 1325.6,360.9 1326.3,355.9 1326.6,342.3 1326.8,319.5 1327.0,319.5 1327.1,342.3 1327.5,355.9 1328.2,360.9 1326.5,360.9 1327.2,356.3 1327.5,343.8 1327.7,323.0 1327.9,323.0 1328.0,343.8 1328.4,356.3 1329.1,360.9 1326.8,360.9 1327.5,345.0 1327.8,301.1 1328.0,228.0 1328.2,228.0 1328.3,301.1 1328.7,345.0 1329.4,360.9 1328.6,361.0 1329.3,349.5 1329.7,317.9 1329.8,265.2 1330.0,265.2 1330.2,317.9 1330.5,349.5 1331.2,361.0 1329.7,361.0 1330.4,348.2 1330.8,313.1 1330.9,254.5 1331.1,254.5 1331.2,313.1 1331.6,348.2 1332.3,361.0 1329.9,361.0 1330.6,356.8 1331.0,345.1 1331.2,325.7 1331.3,325.7 1331.5,345.1 1331.8,356.8 1332.5,361.0 1332.0,361.2 1332.7,350.7 1333.1,321.7 1333.2,273.4 1333.4,273.4 1333.6,321.7 1333.9,350.7 1334.6,361.2 1332.5,361.3 1333.2,344.7 1333.5,298.9 1333.7,222.7 1333.9,222.7 1334.0,298.9 1334.4,344.7 1335.1,361.3 1332.8,361.4 1333.5,358.9 1333.9,352.1 1334.0,340.9 1334.2,340.9 1334.4,352.1 1334.7,358.9 1335.4,361.4 1334.7,361.6 1335.4,355.9 1335.7,340.0 1335.9,313.6 1336.1,313.6 1336.2,340.0 1336.6,355.9 1337.3,361.6 1335.4,361.8 1336.1,350.1 1336.5,318.1 1336.6,264.8 1336.8,264.8 1337.0,318.1 1337.3,350.1 1338.0,361.8 1335.6,361.8 1336.3,353.9 1336.7,332.1 1336.8,295.8 1337.0,295.8 1337.2,332.1 1337.5,353.9 1338.2,361.8 1337.4,362.1 1338.1,352.2 1338.4,324.9 1338.6,279.3 1338.8,279.3 1338.9,324.9 1339.3,352.2 1340.0,362.1 1337.9,362.2 1338.6,345.7 1339.0,300.2 1339.1,224.4 1339.3,224.4 1339.5,300.2 1339.8,345.7 1340.5,362.2 1338.5,362.4 1339.2,357.0 1339.5,342.1 1339.7,317.3 1339.9,317.3 1340.0,342.1 1340.4,357.0 1341.1,362.4 1339.6,362.6 1340.3,345.2 1340.7,297.3 1340.8,217.5 1341.0,217.5 1341.2,297.3 1341.5,345.2 1342.2,362.6 1339.9,362.7 1340.6,350.9 1340.9,318.5 1341.1,264.5 1341.3,264.5 1341.4,318.5 1341.8,350.9 1342.5,362.7 1341.2,363.0 1341.9,355.9 1342.2,336.4 1342.4,303.8 1342.5,303.8 1342.7,336.4 1343.1,355.9 1343.8,363.0 1341.4,363.1 1342.1,344.9 1342.5,295.1 1342.6,212.1 1342.8,212.1 1343.0,295.1 1343.3,344.9 1344.0,363.1 1342.9,363.4 1343.6,352.9 1343.9,323.9 1344.1,275.5 1344.2,275.5 1344.4,323.9 1344.8,352.9 1345.5,363.4 1343.1,363.5 1343.8,344.7 1344.2,292.9 1344.3,206.7 1344.5,206.7 1344.7,292.9 1345.0,344.7 1345.7,363.5 1344.1,363.8 1344.8,359.0 1345.2,345.7 1345.3,323.6 1345.5,323.6 1345.7,345.7 1346.0,359.0 1346.7,363.8 1345.9,364.2 1346.6,354.7 1346.9,328.5 1347.1,284.8 1347.2,284.8 1347.4,328.5 1347.8,354.7 1348.5,364.2 1346.3,364.4 1347.0,352.1 1347.3,318.5 1347.5,262.4 1347.7,262.4 1347.8,318.5 1348.2,352.1 1348.9,364.4 1346.9,364.5 1347.6,358.3 1347.9,341.4 1348.1,313.1 1348.2,313.1 1348.4,341.4 1348.8,358.3 1349.5,364.5 1348.7,365.0 1349.4,360.4 1349.8,347.9 1349.9,327.1 1350.1,327.1 1350.3,347.9 1350.6,360.4 1351.3,365.0 1350.4,365.4 1351.1,351.2 1351.5,312.1 1351.6,246.9 1351.8,246.9 1352.0,312.1 1352.3,351.2 1353.0,365.4 1351.6,365.7 1352.3,357.8 1352.6,335.9 1352.8,299.4 1353.0,299.4 1353.1,335.9 1353.5,357.8 1354.2,365.7 1352.4,365.9 1353.1,354.4 1353.5,322.8 1353.6,270.0 1353.8,270.0 1354.0,322.8 1354.3,354.4 1355.0,365.9 1354.0,366.3 1354.7,349.8 1355.0,304.6 1355.2,229.3 1355.4,229.3 1355.5,304.6 1355.9,349.8 1356.6,366.3 1354.9,366.4 1355.6,355.0 1355.9,323.6 1356.1,271.2 1356.2,271.2 1356.4,323.6 1356.8,355.0 1357.5,366.4 1355.1,366.5 1355.8,354.3 1356.2,320.9 1356.3,265.1 1356.5,265.1 1356.7,320.9 1357.0,354.3 1357.7,366.5 1357.4,366.8 1358.1,361.6 1358.5,347.3 1358.6,323.4 1358.8,323.4 1359.0,347.3 1359.3,361.6 1360.0,366.8 1357.6,366.8 1358.3,354.3 1358.7,320.0 1358.8,262.7 1359.0,262.7 1359.2,320.0 1359.5,354.3 1360.2,366.8 1360.3,366.9 1361.0,354.7 1361.3,321.1 1361.5,265.2 1361.7,265.2 1361.8,321.1 1362.2,354.7 1362.9,366.9 1360.6,366.9 1361.3,356.0 1361.7,326.0 1361.9,276.0 1362.0,276.0 1362.2,326.0 1362.5,356.0 1363.2,366.9 1363.2,366.9 1363.9,360.2 1364.3,341.9 1364.4,311.2 1364.6,311.2 1364.8,341.9 1365.1,360.2 1365.8,366.9 1365.2,366.9 1365.9,356.1 1366.2,326.3 1366.4,276.6 1366.6,276.6 1366.8,326.3 1367.1,356.1 1367.8,366.9 1368.8,366.4 1369.8,366.6 1370.8,367.3 1371.8,366.6 1372.8,366.7 1373.5,366.9 1374.2,350.4 1374.5,305.1 1374.7,229.5 1374.9,229.5 1375.0,305.1 1375.4,350.4 1376.1,366.9 1377.1,366.8 1378.1,366.8 1379.1,366.8 1380.1,367.5 1381.1,366.4 1382.1,366.2 1383.1,367.5 1384.1,367.4 1385.0,366.9 1385.7,348.3 1386.0,297.3 1386.2,212.2 1386.4,212.2 1386.5,297.3 1386.9,348.3 1387.6,366.9 1388.6,367.6 1389.6,366.8 1390.6,367.5 1391.6,367.5 1392.6,366.5 1393.6,367.2 1394.6,366.9 1395.3,358.4 1395.7,335.2 1395.8,296.4 1396.0,296.4 1396.2,335.2 1396.5,358.4 1397.2,366.9 1398.2,367.4 1399.2,367.1 1400.2,366.9 1401.2,366.6 1402.2,366.7 1403.2,366.5 1404.2,366.3 1405.2,367.0 1405.5,366.9 1406.2,348.7 1406.5,298.7 1406.7,215.4 1406.9,215.4 1407.0,298.7 1407.4,348.7 1408.1,366.9 1409.1,366.6 1410.1,367.3 1411.1,366.3 1412.1,367.5 1413.1,367.2 1414.1,367.5 1415.1,367.5 1416.1,367.5 1417.1,367.0 1418.1,366.2 1419.1,367.2 1420.1,366.4 1421.1,366.6 1422.1,367.1 1423.1,366.9 1424.1,366.8 1425.1,367.5 1426.1,367.1 1427.1,366.7 1428.1,366.6 1429.1,367.4 1430.1,366.9 1431.1,367.3 1431.5,366.9 1432.2,353.4 1432.5,316.1 1432.7,254.0 1432.9,254.0 1433.0,316.1 1433.4,353.4 1434.1,366.9 1435.1,366.7 1436.1,366.5 1437.1,366.9 1438.1,367.3 1439.1,366.4 1440.1,367.3 1441.1,367.5 1442.1,367.3 1443.1,367.4 1444.1,366.2 1445.1,367.1 1446.1,367.4 1447.1,366.3 1448.1,366.6 1449.1,366.6 1450.1,366.9 1451.1,366.8 1452.1,366.9 1453.1,367.3 1454.1,366.2 1455.2,366.9 1455.9,353.0 1456.2,314.6 1456.4,250.7 1456.6,250.7 1456.8,314.6 1457.1,353.0 1457.8,366.9 1458.8,366.3 1459.8,366.4 1460.8,366.4 1461.8,366.3 1462.8,367.6 1463.8,367.4 1464.8,366.3 1465.8,366.9 1466.8,366.6 1467.8,366.6 1468.8,366.7 1469.8,367.1 1470.8,367.0 1471.8,366.7 1472.8,366.5 1473.8,366.9 1474.5,356.5 1474.8,327.8 1475.0,280.1 1475.2,280.1 1475.3,327.8 1475.7,356.5 1476.4,366.9 1477.4,366.7 1478.1,366.9 1478.8,355.9 1479.2,325.5 1479.3,274.9 1479.5,274.9 1479.7,325.5 1480.0,355.9 1480.7,366.9 1479.2,366.9 1479.9,354.8 1480.2,321.6 1480.4,266.3 1480.6,266.3 1480.8,321.6 1481.1,354.8 1481.8,366.9 1480.2,366.9 1480.9,354.8 1481.2,321.6 1481.4,266.3 1481.6,266.3 1481.8,321.6 1482.1,354.8 1482.8,366.9 1481.0,366.9 1481.7,355.0 1482.0,322.4 1482.2,268.0 1482.4,268.0 1482.5,322.4 1482.9,355.0 1483.6,366.9 1484.6,366.4 1485.6,367.0 1486.6,367.2 1487.6,366.7 1488.6,366.3 1489.6,366.4 1490.6,366.7 1491.6,367.0 1492.6,367.3 1493.6,366.7 1494.6,367.3 1495.6,367.1 1496.7,366.9 1497.4,349.5 1497.8,301.8 1497.9,222.2 1498.1,222.2 1498.2,301.8 1498.6,349.5 1499.3,366.9 1497.6,366.9 1498.3,351.1 1498.7,307.7 1498.8,235.3 1499.0,235.3 1499.2,307.7 1499.5,351.1 1500.2,366.9 1498.3,366.9 1499.0,355.0 1499.3,322.3 1499.5,267.9 1499.7,267.9 1499.8,322.3 1500.2,355.0 1500.9,366.9 1501.9,366.8 1502.9,366.7 1503.9,366.9 1504.9,367.2 1505.8,366.9 1506.5,351.4 1506.8,308.9 1507.0,238.1 1507.2,238.1 1507.3,308.9 1507.7,351.4 1508.4,366.9 1509.4,366.8 1510.2,366.9 1510.9,351.2 1511.2,308.2 1511.4,236.4 1511.6,236.4 1511.8,308.2 1512.1,351.2 1512.8,366.9 1513.8,367.2 1514.8,366.8 1515.8,366.5 1516.8,367.0 1517.8,367.2 1518.8,366.3 1519.8,366.8 1520.8,366.8 1521.8,367.4 1522.8,367.5 1523.8,366.7 1524.8,367.5 1525.8,367.3 1526.8,366.6 1527.8,366.8 1528.8,366.4 1529.8,367.3 1530.8,367.1 1531.8,367.4 1532.8,367.3 1533.8,367.1 1534.8,367.2 1535.8,367.0 1536.8,366.3 1537.9,366.9 1538.6,353.9 1539.0,318.3 1539.1,258.9 1539.3,258.9 1539.5,318.3 1539.8,353.9 1540.5,366.9 1539.1,366.9 1539.8,356.7 1540.2,328.6 1540.3,281.8 1540.5,281.8 1540.7,328.6 1541.0,356.7 1541.7,366.9 1542.7,367.0 1543.7,366.2 1544.7,366.4 1545.7,367.3 1546.7,366.3 1547.7,366.3 1548.7,366.3" fill="none" stroke="#1a1a1a" stroke-width="0.7" stroke-linejoin="round"/>
<polyline points="960.8,366.9 961.8,366.5 962.8,367.0 963.8,366.7 964.8,367.0 965.8,367.1 966.8,366.3 967.8,366.2 968.8,367.4 969.8,366.6 970.8,366.5 971.8,367.6 972.8,366.9 973.8,367.4 974.8,366.9 975.8,367.1 976.8,366.4 977.8,367.1 978.8,367.4 979.8,366.9 980.8,367.2 981.8,367.1 982.8,366.3 983.8,367.3 984.8,367.0 985.8,366.6 986.8,366.2 987.8,367.4 988.8,366.9 989.8,367.2 990.8,367.4 991.8,367.2 992.8,367.5 993.8,366.8 994.8,367.3 995.8,366.8 996.8,367.5 997.8,367.4 998.8,366.3 999.0,366.9" fill="none" stroke="#111" stroke-width="1.3"/>
<polyline points="1001.6,366.9 1002.6,366.4 1003.6,366.5 1004.6,367.6 1005.6,366.8 1006.6,367.1 1007.6,366.6 1008.6,366.9 1009.6,366.7 1010.6,366.7 1011.6,367.0 1012.6,367.0 1013.6,367.5 1014.6,367.2 1015.6,367.5 1016.6,367.4 1017.6,367.6 1018.6,367.1 1019.6,366.4 1020.6,367.4 1021.6,367.6 1022.6,367.5 1023.6,366.9" fill="none" stroke="#111" stroke-width="1.3"/>
<polyline points="1026.2,366.9 1027.2,367.0 1028.2,366.9" fill="none" stroke="#111" stroke-width="1.3"/>
<polyline points="1030.8,366.9 1031.8,367.2 1032.8,366.5 1033.8,367.4 1034.8,367.0 1035.8,366.6 1036.8,366.3 1037.0,366.9" fill="none" stroke="#111" stroke-width="1.3"/>
<polyline points="1039.6,366.9 1040.6,367.4 1041.6,367.6 1042.7,366.9" fill="none" stroke="#111" stroke-width="1.3"/>
<polyline points="1045.3,366.9 1046.3,366.3 1046.6,366.9" fill="none" stroke="#111" stroke-width="1.3"/>
<polyline points="1113.5,366.9 1113.1,366.9" fill="none" stroke="#111" stroke-width="1.3"/>
<polyline points="1115.7,366.9 1115.9,366.9" fill="none" stroke="#111" stroke-width="1.3"/>
<polyline points="1118.5,366.9 1119.5,367.3 1120.4,366.9" fill="none" stroke="#111" stroke-width="1.3"/>
<polyline points="1123.0,366.9 1124.1,366.9" fill="none" stroke="#111" stroke-width="1.3"/>
<polyline points="1126.7,366.9 1127.7,366.8 1128.7,366.4 1129.7,366.6 1130.7,367.3 1131.7,367.4 1132.7,366.3 1133.0,366.9" fill="none" stroke="#111" stroke-width="1.3"/>
<polyline points="1135.6,366.9 1136.6,367.1 1137.6,366.3 1138.6,367.2 1139.6,366.7 1140.6,367.4 1141.6,367.6 1142.6,366.9" fill="none" stroke="#111" stroke-width="1.3"/>
<polyline points="1145.2,366.9 1146.2,366.9 1147.2,367.6 1148.2,366.6 1149.2,366.3 1150.2,367.0 1151.2,366.2 1151.7,366.9" fill="none" stroke="#111" stroke-width="1.3"/>
<polyline points="1154.3,366.9 1155.3,366.5 1156.3,366.8 1157.3,367.1 1158.3,366.4 1159.3,366.3 1160.3,367.4 1161.3,366.6 1162.3,367.5 1163.3,367.5 1164.3,366.7 1165.3,366.8 1166.3,366.9 1167.3,367.1 1168.3,367.0 1169.3,367.0 1170.3,367.1 1171.3,367.5 1172.3,366.9 1173.3,366.8 1174.3,367.2 1175.3,366.5 1176.3,366.6 1177.3,367.6 1178.3,366.9 1179.3,367.0 1180.3,366.2 1181.3,366.8 1182.3,367.0 1183.3,366.2 1184.3,367.1 1185.3,367.1 1186.3,366.3 1187.4,366.9" fill="none" stroke="#111" stroke-width="1.3"/>
<polyline points="1190.0,366.9 1191.0,367.1 1192.0,366.9 1193.0,367.2 1194.0,366.7 1195.0,367.2 1196.0,367.2 1197.0,366.2 1198.0,366.3 1199.0,367.1 1200.0,367.5 1200.9,366.9" fill="none" stroke="#111" stroke-width="1.3"/>
<polyline points="1203.5,366.9 1204.5,366.6 1205.5,366.8 1206.5,367.0 1207.5,366.6 1208.5,366.7 1209.5,366.6 1210.5,366.7 1211.5,367.0 1212.5,366.6 1213.5,366.7 1214.5,367.3 1215.5,366.2 1215.7,366.9" fill="none" stroke="#111" stroke-width="1.3"/>
<polyline points="1218.3,366.9 1219.3,367.0 1219.6,366.9" fill="none" stroke="#111" stroke-width="1.3"/>
<polyline points="1222.2,366.9 1223.2,367.2 1224.2,366.6 1225.2,366.5 1225.7,366.9" fill="none" stroke="#111" stroke-width="1.3"/>
<polyline points="1228.3,366.9 1229.3,367.3 1230.3,366.5 1231.3,366.5 1232.3,366.8 1233.3,367.2 1234.3,366.3 1235.3,366.7 1236.3,366.7 1237.3,367.4 1238.3,366.8 1239.3,367.4 1240.3,366.4 1241.3,366.7 1242.3,367.1 1243.3,367.4 1244.3,366.8 1245.3,366.5 1246.3,366.4 1247.3,366.9 1248.3,366.5 1249.3,367.3 1250.3,367.4 1251.3,366.5 1252.3,366.6 1253.3,367.3 1254.3,367.1 1255.3,367.3 1256.1,366.9" fill="none" stroke="#111" stroke-width="1.3"/>
<polyline points="1367.8,366.9 1368.8,366.4 1369.8,366.6 1370.8,367.3 1371.8,366.6 1372.8,366.7 1373.5,366.9" fill="none" stroke="#111" stroke-width="1.3"/>
<polyline points="1376.1,366.9 1377.1,366.8 1378.1,366.8 1379.1,366.8 1380.1,367.5 1381.1,366.4 1382.1,366.2 1383.1,367.5 1384.1,367.4 1385.0,366.9" fill="none" stroke="#111" stroke-width="1.3"/>
<polyline points="1387.6,366.9 1388.6,367.6 1389.6,366.8 1390.6,367.5 1391.6,367.5 1392.6,366.5 1393.6,367.2 1394.6,366.9" fill="none" stroke="#111" stroke-width="1.3"/>
<polyline points="1397.2,366.9 1398.2,367.4 1399.2,367.1 1400.2,366.9 1401.2,366.6 1402.2,366.7 1403.2,366.5 1404.2,366.3 1405.2,367.0 1405.5,366.9" fill="none" stroke="#111" stroke-width="1.3"/>
<polyline points="1408.1,366.9 1409.1,366.6 1410.1,367.3 1411.1,366.3 1412.1,367.5 1413.1,367.2 1414.1,367.5 1415.1,367.5 1416.1,367.5 1417.1,367.0 1418.1,366.2 1419.1,367.2 1420.1,366.4 1421.1,366.6 1422.1,367.1 1423.1,366.9 1424.1,366.8 1425.1,367.5 1426.1,367.1 1427.1,366.7 1428.1,366.6 1429.1,367.4 1430.1,366.9 1431.1,367.3 1431.5,366.9" fill="none" stroke="#111" stroke-width="1.3"/>
<polyline points="1434.1,366.9 1435.1,366.7 1436.1,366.5 1437.1,366.9 1438.1,367.3 1439.1,366.4 1440.1,367.3 1441.1,367.5 1442.1,367.3 1443.1,367.4 1444.1,366.2 1445.1,367.1 1446.1,367.4 1447.1,366.3 1448.1,366.6 1449.1,366.6 1450.1,366.9 1451.1,366.8 1452.1,366.9 1453.1,367.3 1454.1,366.2 1455.2,366.9" fill="none" stroke="#111" stroke-width="1.3"/>
<polyline points="1457.8,366.9 1458.8,366.3 1459.8,366.4 1460.8,366.4 1461.8,366.3 1462.8,367.6 1463.8,367.4 1464.8,366.3 1465.8,366.9 1466.8,366.6 1467.8,366.6 1468.8,366.7 1469.8,367.1 1470.8,367.0 1471.8,366.7 1472.8,366.5 1473.8,366.9" fill="none" stroke="#111" stroke-width="1.3"/>
<polyline points="1476.4,366.9 1477.4,366.7 1478.1,366.9" fill="none" stroke="#111" stroke-width="1.3"/>
<polyline points="1480.7,366.9 1479.2,366.9" fill="none" stroke="#111" stroke-width="1.3"/>
<polyline points="1481.8,366.9 1480.2,366.9" fill="none" stroke="#111" stroke-width="1.3"/>
<polyline points="1482.8,366.9 1481.0,366.9" fill="none" stroke="#111" stroke-width="1.3"/>
<polyline points="1483.6,366.9 1484.6,366.4 1485.6,367.0 1486.6,367.2 1487.6,366.7 1488.6,366.3 1489.6,366.4 1490.6,366.7 1491.6,367.0 1492.6,367.3 1493.6,366.7 1494.6,367.3 1495.6,367.1 1496.7,366.9" fill="none" stroke="#111" stroke-width="1.3"/>
<polyline points="1499.3,366.9 1497.6,366.9" fill="none" stroke="#111" stroke-width="1.3"/>
<polyline points="1500.2,366.9 1498.3,366.9" fill="none" stroke="#111" stroke-width="1.3"/>
<polyline points="1500.9,366.9 1501.9,366.8 1502.9,366.7 1503.9,366.9 1504.9,367.2 1505.8,366.9" fill="none" stroke="#111" stroke-width="1.3"/>
<polyline points="1508.4,366.9 1509.4,366.8 1510.2,366.9" fill="none" stroke="#111" stroke-width="1.3"/>
<polyline points="1512.8,366.9 1513.8,367.2 1514.8,366.8 1515.8,366.5 1516.8,367.0 1517.8,367.2 1518.8,366.3 1519.8,366.8 1520.8,366.8 1521.8,367.4 1522.8,367.5 1523.8,366.7 1524.8,367.5 1525.8,367.3 1526.8,366.6 1527.8,366.8 1528.8,366.4 1529.8,367.3 1530.8,367.1 1531.8,367.4 1532.8,367.3 1533.8,367.1 1534.8,367.2 1535.8,367.0 1536.8,366.3 1537.9,366.9" fill="none" stroke="#111" stroke-width="1.3"/>
<polyline points="1540.5,366.9 1539.1,366.9" fill="none" stroke="#111" stroke-width="1.3"/>
<polyline points="1541.7,366.9 1542.7,367.0 1543.7,366.2 1544.7,366.4 1545.7,367.3 1546.7,366.3 1547.7,366.3 1548.7,366.3" fill="none" stroke="#111" stroke-width="1.3"/>
<polyline points="997.5,366.9 998.3,453.2 999.1,366.9" fill="none" stroke="#111" stroke-width="1.0"/>
<polyline points="1432.4,366.9 1433.2,400.7 1434.0,366.9" fill="none" stroke="#111" stroke-width="1.0"/>
<polyline points="1474.9,366.9 1475.7,452.9 1476.5,366.9" fill="none" stroke="#111" stroke-width="1.0"/>
<polyline points="1497.4,366.9 1498.2,408 1499.0,366.9" fill="none" stroke="#111" stroke-width="1.0"/>
<polyline points="1498.2,366.9 1499.0,452.2 1499.8,366.9" fill="none" stroke="#111" stroke-width="1.0"/>
<polyline points="1499.4,366.9 1500.2,408 1501.0,366.9" fill="none" stroke="#111" stroke-width="1.0"/>
<polyline points="1506.7,366.9 1507.5,408 1508.3,366.9" fill="none" stroke="#111" stroke-width="1.0"/>
<polyline points="1507.8,366.9 1508.6,408 1509.4,366.9" fill="none" stroke="#111" stroke-width="1.0"/>
<polyline points="1508.7,366.9 1509.5,449 1510.3,366.9" fill="none" stroke="#111" stroke-width="1.0"/>
<polyline points="1509.8,366.9 1510.6,408 1511.4,366.9" fill="none" stroke="#111" stroke-width="1.0"/>
<polyline points="1526.0,366.9 1526.8,452.2 1527.6,366.9" fill="none" stroke="#111" stroke-width="1.0"/>
<polyline points="1534.1,366.9 1534.9,452.2 1535.7,366.9" fill="none" stroke="#111" stroke-width="1.0"/>
<polyline points="1538.8,366.9 1539.6,418 1540.4,366.9" fill="none" stroke="#111" stroke-width="1.0"/>
<polyline points="1542.2,366.9 1543.0,452.2 1543.8,366.9" fill="none" stroke="#111" stroke-width="1.0"/>
</svg>
</body></html>
